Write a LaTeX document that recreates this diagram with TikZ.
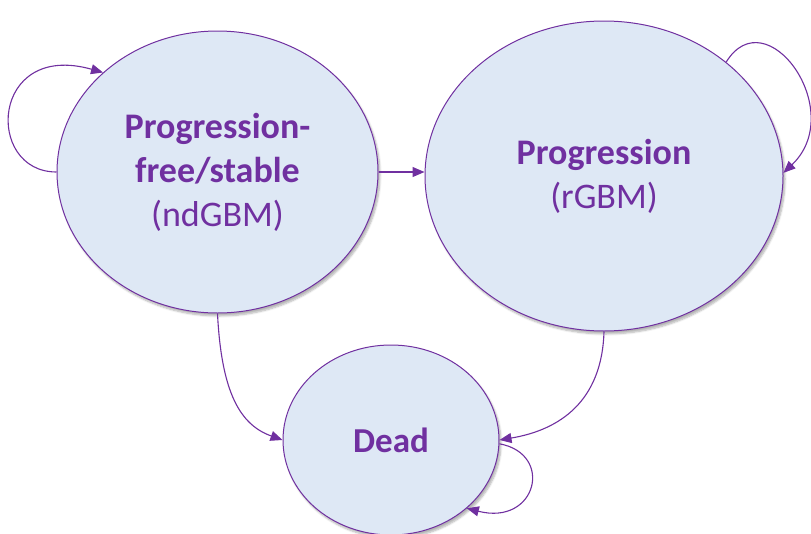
\documentclass[tikz,border=0pt]{standalone}
\usepackage{fontspec}
\setmainfont{Carlito}
\usepackage{xcolor}
\usetikzlibrary{shapes,arrows.meta,positioning,calc,shadows.blur}
\definecolor{gbmpurple}{HTML}{7030A0}
\definecolor{gbmfill}{HTML}{DEE8F5}
\tikzstyle{state} = [ellipse, draw=gbmpurple, line width=1pt, fill=gbmfill, inner sep=0pt,
    align=center, text=gbmpurple, font=\fontsize{36}{44}\selectfont,
    blur shadow={shadow xshift=2pt, shadow yshift=-3pt, shadow blur steps=6, shadow opacity=30}]

\begin{document}
\begin{tikzpicture}[x=1pt,y=-1pt]
    \tikzstyle{trans} = [draw=gbmpurple, line width=1.1pt, -{Triangle[length=12pt,width=10pt]}]
    \useasboundingbox (0,0) rectangle (811,533);
    \node[state, minimum width=321pt, minimum height=282pt] (free) at (217.5,172)
        {\textbf{Progression-}\\\textbf{free/stable}\\(ndGBM)};
    \node[state, minimum width=358pt, minimum height=310pt] (prog) at (604,176)
        {\textbf{Progression}\\(rGBM)};
    \node[state, minimum width=216pt, minimum height=190pt, font=\fontsize{35}{42}\selectfont] (dead) at (391,440)
        {\textbf{Dead}};
    \draw[trans] (free.west) .. controls +(-72,0) and +(-113,-32) .. (free.139);
    \draw[trans] (free.east) -- (free.east -| prog.west);
    \draw[trans] (prog.43) .. controls +(40,-65) and +(65,-62) .. (prog.1);
    \draw[trans] (free.south) .. controls +(4,80) and +(-42,-15) .. (dead.west);
    \draw[trans] (prog.south) .. controls +(-2,70) and +(60,-10) .. (dead.east);
    \draw[trans] (dead.358) .. controls +(55,10) and +(70,18) .. (dead.318);
\end{tikzpicture}
\end{document}
